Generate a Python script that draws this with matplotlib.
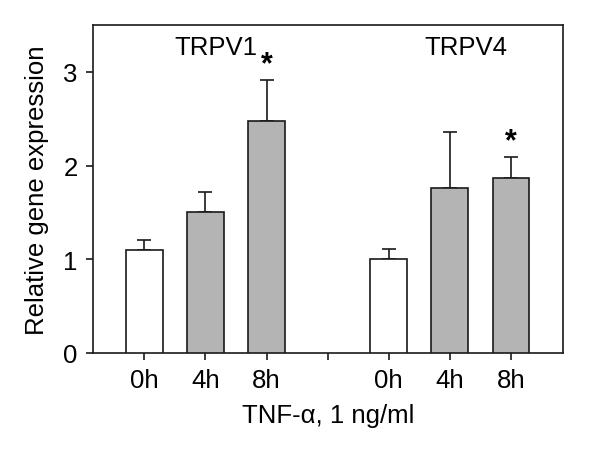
import numpy as np
import matplotlib
matplotlib.use('Agg')
import matplotlib.pyplot as plt

plt.rcParams['font.family'] = ['Liberation Sans', 'DejaVu Sans']

# 数据：TRPV1 / TRPV4 在 TNF-α 处理不同时间点的相对表达
time_labels = ['0h', '4h', '8h', '', '0h', '4h', '8h']
trpv1_mean = [1.10, 1.50, 2.48]
trpv1_err = [0.11, 0.22, 0.43]
trpv4_mean = [1.00, 1.76, 1.87]
trpv4_err = [0.11, 0.60, 0.22]
bar_colors = ['white', '#b4b4b4', '#b4b4b4']
signif = [False, False, True]
signif4 = [False, False, True]

x1 = np.array([1, 2, 3])
x4 = np.array([5, 6, 7])
ec = '#1a1a1a'
fs = 18.5

fig = plt.figure(figsize=(6, 4.56), dpi=100)
ax = fig.add_axes([0.155, 0.2237, 0.783, 0.7193])

for xs, m, e, sg in [(x1, trpv1_mean, trpv1_err, signif), (x4, trpv4_mean, trpv4_err, signif4)]:
    ax.bar(xs, m, width=0.6, color=bar_colors, edgecolor=ec, linewidth=1.2, zorder=3)
    ax.errorbar(xs, m, yerr=[np.zeros(len(e)), e], fmt='none', ecolor=ec,
                elinewidth=1.2, capsize=5, capthick=1.2, zorder=2)
    for xi, mi, ei, s in zip(xs, m, e, sg):
        if s:
            ax.text(xi, mi + ei + 0.01, '*', ha='center', va='bottom',
                    fontsize=22, fontweight='bold')

ax.text(2.17, 3.27, 'TRPV1', ha='center', va='center', fontsize=fs)
ax.text(6.27, 3.27, 'TRPV4', ha='center', va='center', fontsize=fs)

ax.set_xlim(0.16, 7.85)
ax.set_ylim(0, 3.5)
ax.set_xticks(np.arange(1, 8))
ax.set_xticklabels(time_labels, fontsize=fs)
ax.set_yticks([0, 1, 2, 3])
ax.set_yticklabels(['0', '1', '2', '3'], fontsize=fs)
ax.tick_params(direction='out', length=5, width=1.2, color=ec, pad=6)
for sp in ax.spines.values():
    sp.set_linewidth(1.2)
    sp.set_color(ec)
ax.set_xlabel('TNF-\u03b1, 1 ng/ml', fontsize=fs, labelpad=8)
ax.set_ylabel('Relative gene expression', fontsize=fs, labelpad=10)

plt.savefig('out.png', dpi=100)
